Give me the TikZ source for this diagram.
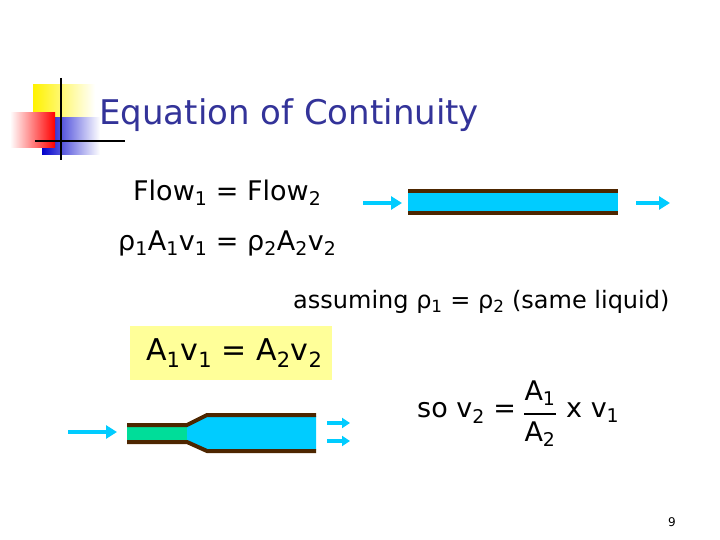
\documentclass[tikz,border=0pt]{standalone}
\usepackage{fontspec}
\setmainfont{DejaVu Sans}
\usetikzlibrary{arrows.meta}
\definecolor{ttl}{HTML}{333399}
\definecolor{wat}{HTML}{00CCFF}
\definecolor{grn}{HTML}{00DD99}
\definecolor{brn}{HTML}{4D2600}
\definecolor{ylw}{HTML}{FFFF99}
\newcommand{\sbs}[1]{\textsubscript{#1}}
\tikzset{flow/.style={wat,line width=4.5pt,-{Triangle[length=11pt,width=13pt]}},
 txt/.style={inner sep=0pt,anchor=west,font=\fontsize{27}{30}\selectfont},
 wall/.style={brn,line width=4pt}}
\begin{document}
\begin{tikzpicture}[x=1pt,y=-1pt]
\useasboundingbox (0,0) rectangle (720,540);
% logo
\shade[left color=yellow!90!orange,right color=white] (33,85) rectangle (95,130);
\shade[left color=blue!80!black,right color=white] (42,118) rectangle (100,155);
\shade[left color=white,right color=red] (10,113) rectangle (55,148);
\draw[line width=1.5pt] (61,78) -- (61,160);
\draw[line width=1.5pt] (35,141) -- (125,141);
\node[txt,font=\fontsize{34}{36}\selectfont,text=ttl] (title) at (99,115) {Equation of Continuity};
\node[txt] (f1) at (133,193) {Flow\sbs{1} = Flow\sbs{2}};
\node[txt] (f2) at (118,243) {ρ\sbs{1}A\sbs{1}v\sbs{1} = ρ\sbs{2}A\sbs{2}v\sbs{2}};
\node[txt,font=\fontsize{24}{26}\selectfont] (as) at (293,302) {assuming ρ\sbs{1} = ρ\sbs{2} (same liquid)};
\fill[ylw] (130,326) rectangle (332,380);
\node[txt,font=\fontsize{30}{32}\selectfont] (eq) at (146,353) {A\sbs{1}v\sbs{1} = A\sbs{2}v\sbs{2}};
\node[txt] (so) at (417,413) {so v\sbs{2} =};
\node[inner sep=0pt,font=\fontsize{27}{30}\selectfont] (num) at (540,393) {A\sbs{1}};
\node[inner sep=0pt,font=\fontsize{27}{30}\selectfont] (den) at (540,434) {A\sbs{2}};
\draw[line width=2pt] (524,414) -- (556,414);
\node[txt] (xv) at (566,413) {x v\sbs{1}};
\node[inner sep=0pt,font=\fontsize{12}{13}\selectfont] (pg) at (672,522) {9};
% top pipe
\fill[wat] (408,192) rectangle (618,212);
\draw[wall] (408,191) -- (618,191);
\draw[wall] (408,213) -- (618,213);
\coordinate (a1) at (363,203); \coordinate (a2) at (402,203);
\coordinate (b1) at (636,203); \coordinate (b2) at (670,203);
\draw[flow] (a1) -- (a2);
\draw[flow] (b1) -- (b2);
% bottom pipe
\fill[grn] (127,427) rectangle (187,440);
\fill[wat] (187,427) -- (207,416) -- (316,416) -- (316,450) -- (207,450) -- (187,440) -- cycle;
\draw[wall] (127,425) -- (187,425) -- (207,415) -- (316,415);
\draw[wall] (127,442) -- (187,442) -- (207,451) -- (316,451);
\coordinate (c1) at (68,432); \coordinate (c2) at (117,432);
\draw[flow] (c1) -- (c2);
\coordinate (d1) at (327,423); \coordinate (d2) at (350,423);
\coordinate (e1) at (327,441); \coordinate (e2) at (350,441);
\draw[flow,line width=3.5pt,-{Triangle[length=8pt,width=10pt]}] (d1) -- (d2);
\draw[flow,line width=3.5pt,-{Triangle[length=8pt,width=10pt]}] (e1) -- (e2);
\end{tikzpicture}
\end{document}
